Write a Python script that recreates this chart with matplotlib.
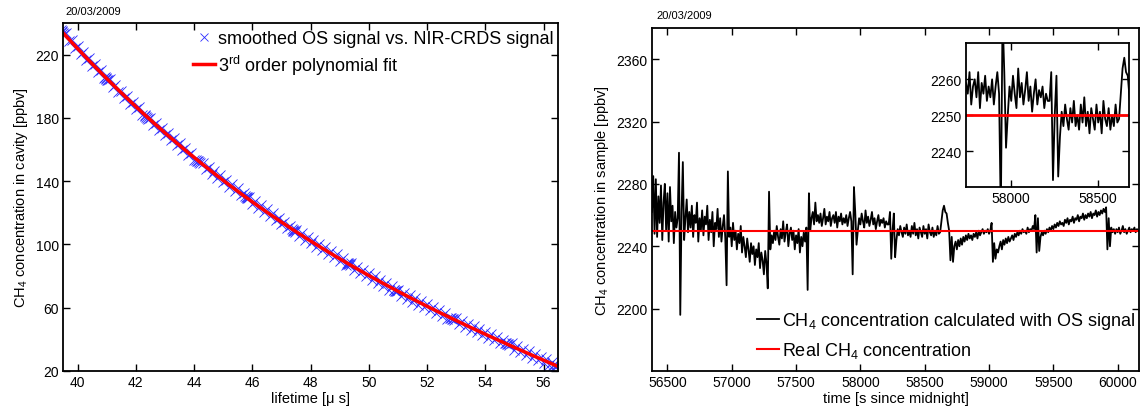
import numpy as np
from matplotlib import pyplot as plt

plt.rcParams['font.family'] = ['Liberation Sans', 'DejaVu Sans']
plt.rcParams['mathtext.fontset'] = 'custom'
plt.rcParams['mathtext.rm'] = 'Liberation Sans'
plt.rcParams['mathtext.it'] = 'Liberation Sans:italic'
plt.rcParams['font.size'] = 10

date_text = "20/03/2009"

# left: smoothed OS signal vs NIR-CRDS signal (lifetime [us], CH4 [ppbv])
tau = [39.42, 39.45, 39.47, 39.50, 39.53,
       39.6, 39.7, 39.8, 39.9, 40.0, 40.1, 40.2, 40.3, 40.4, 40.5, 40.6, 40.7, 40.8, 40.9,
       40.93, 40.96, 40.99, 41.02, 41.05,
       41.1, 41.2, 41.3, 41.4, 41.5, 41.6, 41.7, 41.8, 41.9, 42.0, 42.1, 42.2,
       42.30, 42.33, 42.36, 42.39, 42.42,
       42.5, 42.6, 42.7, 42.8, 42.9, 43.0, 43.1, 43.2, 43.3, 43.4, 43.5, 43.6, 43.7, 43.8, 43.9, 44.0,
       44.08, 44.11, 44.14, 44.17, 44.20,
       44.3, 44.4, 44.5, 44.6, 44.7, 44.8, 44.9, 45.0, 45.1, 45.2, 45.3, 45.4, 45.5, 45.6, 45.7,
       45.74, 45.77, 45.80, 45.83, 45.86,
       45.9, 46.0, 46.1, 46.2, 46.3, 46.4, 46.5, 46.6, 46.7, 46.8, 46.9, 47.0, 47.1, 47.2, 47.3,
       47.35, 47.38, 47.41, 47.44, 47.47,
       47.5, 47.6, 47.7, 47.8, 47.9, 48.0, 48.1, 48.2, 48.3, 48.4, 48.5, 48.6, 48.7, 48.8, 48.9, 49.0, 49.1, 49.2,
       49.24, 49.27, 49.30, 49.33, 49.36,
       49.4, 49.5, 49.6, 49.7, 49.8, 49.9, 50.0, 50.1, 50.2, 50.3, 50.4, 50.5, 50.6, 50.7, 50.8,
       50.85, 50.88, 50.91, 50.94, 50.97,
       51.0, 51.1, 51.2, 51.3, 51.4, 51.5, 51.6, 51.7, 51.8, 51.9, 52.0, 52.1, 52.2, 52.3, 52.4, 52.5, 52.6, 52.7,
       52.80, 52.83, 52.86, 52.89, 52.92,
       53.0, 53.1, 53.2, 53.3, 53.4, 53.5, 53.6, 53.7, 53.8, 53.9, 54.0, 54.1, 54.2, 54.3, 54.4, 54.5, 54.6,
       54.69, 54.72, 54.75, 54.78, 54.81,
       54.9, 55.0, 55.1, 55.2, 55.3, 55.4, 55.5, 55.6, 55.7, 55.8, 55.9, 56.0, 56.1, 56.2, 56.3,
       56.34, 56.37, 56.40, 56.43, 56.46]
conc = [235.3, 234.9, 234.4, 233.8, 233.2,
        233.4, 228.4, 229.5, 224.5, 225.6, 220.6, 221.7, 216.7, 217.8, 212.8, 213.9, 209.0, 210.0, 205.1,
        205.9, 205.4, 204.8, 204.2, 203.7,
        204.4, 199.6, 200.8, 196.1, 197.3, 192.5, 193.8, 189.0, 190.2, 185.5, 186.7, 181.9,
        181.7, 181.1, 180.6, 180.0, 179.5,
        179.9, 175.3, 176.7, 172.2, 173.6, 169.0, 170.4, 165.8, 167.3, 162.7, 164.1, 159.5, 160.9, 156.4, 157.8, 153.2,
        153.4, 152.9, 152.5, 152.0, 151.6,
        151.8, 147.5, 149.1, 144.7, 146.4, 142.0, 143.7, 139.3, 140.9, 136.6, 138.2, 133.8, 135.5, 131.1, 132.8,
        130.7, 130.3, 129.9, 129.5, 129.1,
        130.1, 125.8, 127.5, 123.2, 124.9, 120.5, 122.2, 117.9, 119.6, 115.3, 117.0, 112.7, 114.4, 110.1, 111.7,
        109.5, 109.1, 108.8, 108.5, 108.1,
        109.3, 105.2, 107.1, 102.9, 104.8, 100.7, 102.6, 98.5, 100.4, 96.3, 98.1, 94.0, 95.9, 91.8, 93.7, 89.5, 91.4, 87.3,
        88.3, 88.0, 87.7, 87.4, 87.1,
        88.1, 84.1, 86.0, 82.0, 84.0, 79.9, 81.8, 77.8, 79.8, 75.7, 77.7, 73.6, 75.6, 71.5, 73.5,
        71.4, 71.1, 70.8, 70.5, 70.3,
        71.5, 67.6, 69.6, 65.7, 67.8, 63.9, 66.0, 62.0, 64.1, 60.2, 62.3, 58.4, 60.4, 56.5, 58.6, 54.7, 56.8, 52.9,
        53.4, 53.2, 52.9, 52.6, 52.4,
        53.2, 49.4, 51.6, 47.7, 49.9, 46.0, 48.2, 44.4, 46.5, 42.7, 44.9, 41.0, 43.2, 39.4, 41.5, 37.7, 39.9,
        37.6, 37.4, 37.1, 36.9, 36.6,
        37.4, 33.5, 35.7, 31.9, 34.0, 30.2, 32.4, 28.5, 30.7, 26.9, 29.0, 25.2, 27.4, 23.6, 25.7,
        23.9, 23.6, 23.4, 23.1, 22.9]

# right: CH4 calculated with OS signal, one value every 10 s from 56380 s
t_start = 56380
t_step = 10
ch4_calc = [
    2262, 2285, 2248, 2283, 2246, 2272, 2255, 2279, 2244, 2268,
    2280, 2250, 2274, 2243, 2278, 2256, 2266, 2242, 2262, 2252,
    2258, 2300, 2196, 2262, 2294, 2244, 2258, 2270, 2249, 2262,
    2252, 2266, 2246, 2260, 2255, 2268, 2243, 2258, 2250, 2263,
    2247, 2259, 2254, 2266, 2244, 2257, 2249, 2262, 2240, 2255,
    2251, 2264, 2246, 2258, 2243, 2253, 2260, 2245, 2215, 2288,
    2246, 2252, 2240, 2255, 2244, 2250, 2238, 2248, 2242, 2253,
    2236, 2246, 2240, 2233, 2245, 2238, 2230, 2242, 2235, 2240,
    2228, 2238, 2233, 2242, 2226, 2236, 2231, 2222, 2237, 2229,
    2213, 2275, 2238, 2247, 2242, 2250, 2244, 2253, 2246, 2241,
    2251, 2245, 2256, 2243, 2249, 2254, 2240, 2248, 2252, 2244,
    2250, 2238, 2247, 2242, 2251, 2236, 2246, 2240, 2249, 2243,
    2252, 2212, 2274, 2250, 2258, 2262, 2254, 2268, 2256, 2260,
    2255, 2261, 2253, 2258, 2264, 2254, 2259, 2256, 2262, 2253,
    2258, 2260, 2255, 2262, 2252, 2259, 2256, 2261, 2254, 2258,
    2255, 2260, 2253, 2258, 2262, 2256, 2222, 2278, 2262, 2241,
    2250, 2258, 2254, 2261, 2256, 2252, 2263, 2255, 2259, 2253,
    2257, 2262, 2254, 2258, 2251, 2256, 2260, 2253, 2257, 2255,
    2258, 2252, 2256, 2254, 2254, 2262, 2232, 2250, 2261, 2233,
    2244, 2251, 2247, 2253, 2249, 2246, 2252, 2248, 2254, 2247,
    2250, 2246, 2253, 2248, 2255, 2247, 2251, 2245, 2252, 2249,
    2246, 2253, 2248, 2251, 2245, 2254, 2249, 2247, 2252, 2246,
    2250, 2247, 2253, 2248, 2249, 2256, 2263, 2266, 2262, 2261,
    2255, 2250, 2231, 2246, 2230, 2240, 2243, 2238, 2244, 2240,
    2245, 2241, 2246, 2243, 2247, 2244, 2248, 2245, 2247, 2244,
    2248, 2246, 2249, 2245, 2250, 2247, 2249, 2251, 2248, 2250,
    2249, 2251, 2248, 2250, 2255, 2230, 2242, 2232, 2238, 2236,
    2240, 2243, 2238, 2244, 2241, 2245, 2242, 2246, 2243, 2245,
    2247, 2244, 2248, 2246, 2249, 2247, 2250, 2248, 2251, 2249,
    2250, 2248, 2252, 2249, 2251, 2250, 2253, 2251, 2260, 2236,
    2258, 2237, 2246, 2249, 2247, 2250, 2248, 2251, 2249, 2252,
    2250, 2253, 2251, 2254, 2252, 2255, 2253, 2256, 2254, 2255,
    2253, 2257, 2255, 2258, 2254, 2257, 2256, 2259, 2255, 2258,
    2257, 2260, 2256, 2259, 2258, 2261, 2257, 2260, 2258, 2261,
    2259, 2262, 2258, 2261, 2260, 2263, 2259, 2262, 2260, 2263,
    2261, 2264, 2262, 2265, 2238, 2258, 2240, 2252, 2249, 2251,
    2248, 2251, 2249, 2252, 2248, 2250, 2253, 2249, 2251, 2248,
    2250, 2252, 2249, 2251, 2250, 2252, 2249, 2251, 2250]
ch4_real = 2250


def style_axes(ax, lw=1.3):
    for s in ax.spines.values():
        s.set_linewidth(lw)
    ax.tick_params(direction='in', top=True, right=True, length=5, width=1,
                   labelsize=10, pad=3)


def main():
    fig = plt.figure(figsize=(11.42, 4.10), dpi=100)

    # left plot
    ax1 = fig.add_axes([0.0552, 0.0927, 0.4335, 0.8488])
    coef = np.polyfit(tau, conc, 3)
    xf = np.linspace(min(tau), max(tau), 300)
    ax1.plot(tau, conc, 'x', color='#2a2aff', ms=6.5, mew=0.6,
             label='smoothed OS signal vs. NIR-CRDS signal')
    ax1.plot(xf, np.polyval(coef, xf), color='red', lw=2.5,
             label='3$^{\\mathrm{rd}}$ order polynomial fit')
    ax1.set_xlim(39.5, 56.5)
    ax1.set_ylim(20, 240)
    ax1.set_xticks(range(40, 57, 2))
    ax1.set_yticks(range(20, 221, 40))
    ax1.set_xlabel('lifetime [\u03bc s]', fontsize=10.5, labelpad=1)
    ax1.set_ylabel('CH$_4$ concentration in cavity [ppbv]', fontsize=10.5, labelpad=4)
    style_axes(ax1)
    ax1.legend(loc='upper right', bbox_to_anchor=(554 / 1142, 1 - 31 / 410),
               bbox_transform=fig.transFigure, frameon=False, fontsize=13,
               handlelength=1.2, handletextpad=0.2, labelspacing=0.3,
               borderpad=0, borderaxespad=0, markerscale=0.8)
    fig.text(65 / 1142, 1 - 12 / 410, date_text, fontsize=8, va='center')

    # right plot
    t = t_start + t_step * np.arange(len(ch4_calc))
    ax2 = fig.add_axes([0.5709, 0.0927, 0.4264, 0.8366])
    ax2.plot(t, ch4_calc, color='black', lw=1.3,
             label='CH$_4$ concentration calculated with OS signal')
    ax2.axhline(ch4_real, color='red', lw=1.5, label='Real CH$_4$ concentration')
    ax2.set_xlim(56380, 60165)
    ax2.set_ylim(2160, 2380)
    ax2.set_xticks(range(56500, 60001, 500))
    ax2.set_yticks(range(2200, 2361, 40))
    ax2.set_xlabel('time [s since midnight]', fontsize=10.5, labelpad=1)
    ax2.set_ylabel('CH$_4$ concentration in sample [ppbv]', fontsize=10.5, labelpad=4)
    style_axes(ax2)
    ax2.legend(loc='lower right', bbox_to_anchor=(1136 / 1142, 1 - 361 / 410),
               bbox_transform=fig.transFigure, frameon=False, fontsize=13,
               handlelength=1.2, handletextpad=0.2, labelspacing=0.5,
               borderpad=0, borderaxespad=0)
    fig.text(656 / 1142, 1 - 16 / 410, date_text, fontsize=8, va='center')

    # inset
    ax3 = fig.add_axes([0.8456, 0.5407, 0.1427, 0.3512])
    ax3.plot(t, ch4_calc, color='black', lw=1.3)
    ax3.axhline(ch4_real, color='red', lw=2)
    ax3.set_xlim(57738, 58675)
    ax3.set_ylim(2230, 2270)
    ax3.set_xticks([58000, 58500])
    ax3.set_yticks([2240, 2250, 2260])
    style_axes(ax3)

    plt.savefig('out.png', dpi=100)


if __name__ == '__main__':
    main()
